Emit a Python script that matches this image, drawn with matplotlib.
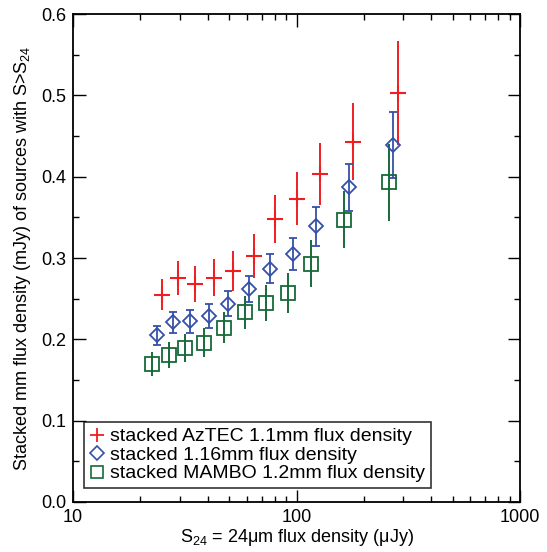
import numpy as np
import matplotlib
matplotlib.use('Agg')
import matplotlib.pyplot as plt
from matplotlib.lines import Line2D
from matplotlib.ticker import FixedLocator, NullFormatter

plt.rcParams['font.family'] = ['Liberation Sans', 'DejaVu Sans']
plt.rcParams['mathtext.fontset'] = 'custom'
plt.rcParams['mathtext.rm'] = 'Liberation Sans'

# AzTEC 1.1mm
aztec_s = [24.9, 29.6, 35.2, 42.8, 52.1, 64.6, 80.2, 100.8, 127.3, 179.5, 285.5]
aztec_f = [0.255, 0.275, 0.268, 0.276, 0.284, 0.303, 0.348, 0.373, 0.403, 0.443, 0.503]
aztec_e = [0.019, 0.021, 0.022, 0.023, 0.025, 0.027, 0.029, 0.033, 0.038, 0.047, 0.064]

# 1.16mm combined
comb_s = [23.7, 28.1, 33.4, 40.6, 49.5, 61.5, 76.0, 96.1, 122.2, 171.8, 271.0]
comb_f = [0.205, 0.221, 0.222, 0.229, 0.244, 0.262, 0.287, 0.305, 0.339, 0.387, 0.439]
comb_e = [0.012, 0.013, 0.014, 0.015, 0.015, 0.016, 0.018, 0.020, 0.024, 0.029, 0.041]

# MAMBO 1.2mm
mambo_s = [22.6, 27.0, 31.8, 38.7, 47.4, 58.8, 72.8, 91.6, 115.7, 163.2, 259.5]
mambo_f = [0.170, 0.181, 0.189, 0.196, 0.214, 0.233, 0.245, 0.257, 0.293, 0.347, 0.393]
mambo_e = [0.015, 0.016, 0.017, 0.018, 0.019, 0.020, 0.022, 0.025, 0.029, 0.035, 0.047]

RED = '#f01e23'
BLUE = '#3550a8'
GREEN = '#17693a'

fig = plt.figure(figsize=(5.47, 5.52), dpi=100)
ax = fig.add_axes([0.1335, 0.0906, 0.8171, 0.884])

ax.errorbar(aztec_s, aztec_f, yerr=aztec_e, fmt='+', color=RED, ms=11,
            mew=1.5, elinewidth=1.4, capsize=0)
ax.errorbar(comb_s, comb_f, yerr=comb_e, fmt='D', color=BLUE, mfc='none',
            ms=7, mew=1.3, elinewidth=1.3, capsize=3, capthick=1.3)
ax.errorbar(mambo_s, mambo_f, yerr=mambo_e, fmt='s', color=GREEN, mfc='none',
            ms=10, mew=1.3, elinewidth=1.4, capsize=0)

ax.set_xscale('log')
ax.set_xlim(10, 1000)
ax.set_ylim(0, 0.6)
ax.set_xticks([10, 100, 1000])
ax.set_xticklabels(['10', '100', '1000'])
ax.xaxis.set_minor_locator(FixedLocator(
    [m * 10 ** d for d in (1, 2) for m in range(2, 10)]))
ax.xaxis.set_minor_formatter(NullFormatter())
ax.set_yticks(np.arange(0, 0.61, 0.1))
ax.set_yticklabels(['%.1f' % v for v in np.arange(0, 0.61, 0.1)])
ax.yaxis.set_minor_locator(FixedLocator(np.arange(0.05, 0.6, 0.1)))

ax.tick_params(which='both', direction='in', top=True, right=True,
               labelsize=13, width=1.0, pad=5)
ax.tick_params(which='major', length=9)
ax.tick_params(which='minor', length=4.5)
for sp in ax.spines.values():
    sp.set_linewidth(1.3)

ax.set_xlabel('S$_{24}$ = 24μm flux density (μJy)', fontsize=13, labelpad=1)
ax.set_ylabel('Stacked mm flux density (mJy) of sources with S>S$_{24}$',
              fontsize=13, labelpad=6)

handles = [
    Line2D([], [], ls='none', marker='+', color=RED, ms=10, mew=1.3),
    Line2D([], [], ls='none', marker='D', color=BLUE, mfc='none', ms=7, mew=1.2),
    Line2D([], [], ls='none', marker='s', color=GREEN, mfc='none', ms=9, mew=1.2),
]
labels = ['stacked AzTEC 1.1mm flux density',
          'stacked 1.16mm flux density',
          'stacked MAMBO 1.2mm flux density']
leg = ax.legend(handles, labels, loc='lower left', bbox_to_anchor=(0.025, 0.028),
                fontsize=14, frameon=True, fancybox=False, handlelength=0.7,
                handletextpad=0.35, borderpad=0.3, labelspacing=0.05,
                borderaxespad=0)
leg.get_frame().set_edgecolor('black')
leg.get_frame().set_linewidth(1.2)

fig.savefig('out.png', dpi=100)
